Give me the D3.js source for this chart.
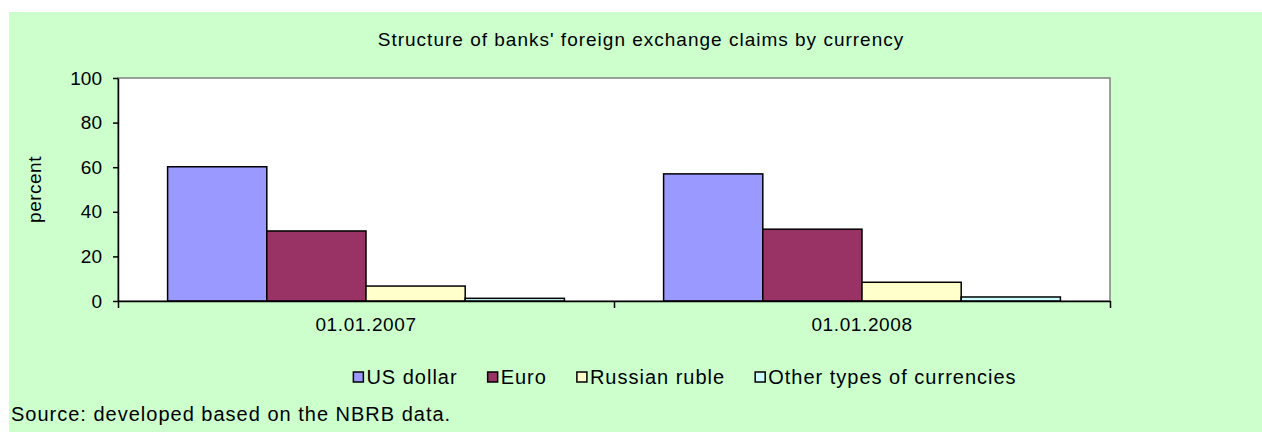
<!DOCTYPE html>
<html>
<head>
<meta charset="utf-8">
<script src="https://cdn.jsdelivr.net/npm/d3@7"></script>
<style>
  body { margin: 0; background: #fff; }
  text { font-family: "Liberation Sans", Arial, sans-serif; fill: #000; }
  .axis path, .axis line { stroke: #000; stroke-width: 1.5; }
  .axis text { font-size: 19px; }
  .labels text { letter-spacing: 0.6px; }
</style>
</head>
<body>
<div id="chart-area"></div>
<script>
const categories = ['01.01.2007', '01.01.2008'];
const series = ['US dollar', 'Euro', 'Russian ruble', 'Other types of currencies'];
const usDollar = [60.2, 57.0];
const euro = [31.4, 32.2];
const russianRuble = [6.7, 8.4];
const otherCurrencies = [1.2, 1.8];
const yTicks = [0, 20, 40, 60, 80, 100];
const seriesColors = ['#9999FF', '#993366', '#FFFFCC', '#CCFFFF'];

const chartSize = { width: 1262, height: 432 };
const frame = { left: 9, top: 12 };
const margin = { left: 118, right: 152, top: 78, bottom: 131 };
const width = chartSize.width - margin.left - margin.right;
const height = chartSize.height - margin.top - margin.bottom;

const values = [usDollar, euro, russianRuble, otherCurrencies];
const rows = categories.map((c, i) => ({ category: c, bars: series.map((s, j) => ({ s, v: values[j][i] })) }));
const color = d3.scaleOrdinal(series, seriesColors);

const svg = d3.select('#chart-area').append('svg')
  .attr('width', chartSize.width)
  .attr('height', chartSize.height);

svg.append('rect')
  .attr('x', frame.left).attr('y', frame.top)
  .attr('width', chartSize.width - frame.left)
  .attr('height', chartSize.height - frame.top)
  .attr('fill', '#CCFFCC');

svg.append('text')
  .attr('x', 641).attr('y', 46)
  .attr('text-anchor', 'middle')
  .style('font-size', '19px')
  .style('letter-spacing', '1px')
  .text("Structure of banks' foreign exchange claims by currency");

const g = svg.append('g')
  .attr('transform', `translate(${margin.left},${margin.top})`);

g.append('rect')
  .attr('width', width).attr('height', height)
  .attr('fill', '#fff')
  .attr('stroke', '#808080').attr('stroke-width', 1.5);

const y = d3.scaleLinear().domain([0, 100]).range([height, 0]);
const x0 = d3.scaleBand().domain(categories).range([0, width]);
const x1 = d3.scaleBand().domain(series)
  .range([x0.bandwidth() * 0.1, x0.bandwidth() * 0.9]);

g.selectAll('g.group')
  .data(rows)
  .enter().append('g')
  .attr('class', 'group')
  .attr('transform', r => `translate(${x0(r.category)},0)`)
  .selectAll('rect')
  .data(r => r.bars)
  .enter().append('rect')
  .attr('x', b => x1(b.s))
  .attr('y', b => y(b.v))
  .attr('width', x1.bandwidth())
  .attr('height', b => height - y(b.v))
  .attr('fill', b => color(b.s))
  .attr('stroke', '#000')
  .attr('stroke-width', 1.5);

g.append('g')
  .attr('class', 'y axis')
  .call(d3.axisLeft(y).tickValues(yTicks).tickSize(5).tickPadding(11).tickSizeOuter(0));

// tick marks sit on the category boundaries
const xEdges = d3.scaleLinear().domain([0, categories.length]).range([0, width]);
g.append('g')
  .attr('class', 'x axis')
  .attr('transform', `translate(0,${height})`)
  .call(d3.axisBottom(xEdges).ticks(categories.length).tickSize(7).tickSizeOuter(0).tickFormat(''));

g.append('g')
  .attr('class', 'x axis labels')
  .attr('transform', `translate(0,${height})`)
  .call(d3.axisBottom(x0).tickSize(0).tickPadding(17))
  .call(a => a.select('.domain').remove());

svg.append('text')
  .attr('transform', `translate(41,${margin.top + height / 2}) rotate(-90)`)
  .attr('text-anchor', 'middle')
  .style('font-size', '19px')
  .style('letter-spacing', '0.5px')
  .text('percent');

// legend, centred under the chart
const legend = svg.append('g').attr('transform', 'translate(0,377)');
const items = legend.selectAll('g').data(series).enter().append('g');
items.append('rect')
  .attr('x', 0).attr('y', -5)
  .attr('width', 10).attr('height', 10)
  .attr('fill', s => color(s))
  .attr('stroke', '#000').attr('stroke-width', 1.5);
items.append('text')
  .attr('x', 13).attr('dy', '0.35em')
  .style('font-size', '20px')
  .style('letter-spacing', '1px')
  .text(s => s);
let cursor = 0;
items.each(function () {
  d3.select(this).attr('transform', `translate(${cursor},0)`);
  cursor += this.getBBox().width + 30;
});
const legendWidth = cursor - 30;
legend.attr('transform', `translate(${685 - legendWidth / 2},377)`);

svg.append('text')
  .attr('x', 11).attr('y', 421)
  .style('font-size', '20px')
  .style('letter-spacing', '1px')
  .text('Source: developed based on the NBRB data.');
</script>
</body>
</html>
